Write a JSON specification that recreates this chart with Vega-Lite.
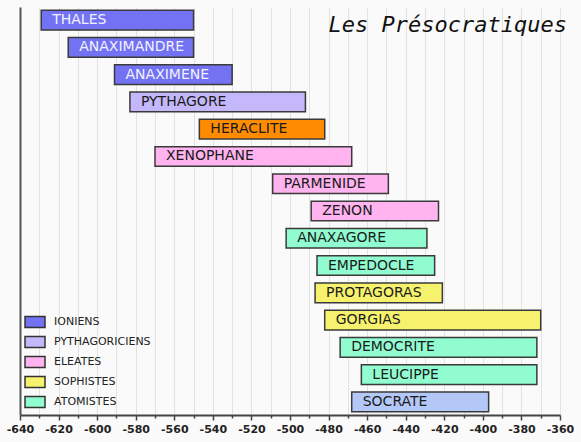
{
  "$schema": "https://vega.github.io/schema/vega-lite/v6.json",
  "autosize": {"type": "none"},
  "width": 540,
  "height": 408,
  "padding": {"left": 20, "top": 7, "right": 21, "bottom": 27},
  "background": "#fafafa",
  "title": {
    "text": "Les Présocratiques",
    "anchor": "end",
    "frame": "group",
    "offset": -30,
    "dx": 7,
    "font": "DejaVu Sans Mono",
    "fontStyle": "italic",
    "fontWeight": "normal",
    "fontSize": 22,
    "color": "#111111"
  },
  "config": {
    "view": {"stroke": null},
    "font": "DejaVu Sans"
  },
  "data": {
    "values": [
      {"name": "THALES", "start": -629, "end": -550, "school": "IONIENS"},
      {"name": "ANAXIMANDRE", "start": -615, "end": -550, "school": "IONIENS"},
      {"name": "ANAXIMENE", "start": -591, "end": -530, "school": "IONIENS"},
      {"name": "PYTHAGORE", "start": -583, "end": -492, "school": "PYTHAGORICIENS"},
      {"name": "HERACLITE", "start": -547, "end": -482, "school": "HERACLITE"},
      {"name": "XENOPHANE", "start": -570, "end": -468, "school": "ELEATES"},
      {"name": "PARMENIDE", "start": -509, "end": -449, "school": "ELEATES"},
      {"name": "ZENON", "start": -489, "end": -423, "school": "ELEATES"},
      {"name": "ANAXAGORE", "start": -502, "end": -429, "school": "ATOMISTES"},
      {"name": "EMPEDOCLE", "start": -486, "end": -425, "school": "ATOMISTES"},
      {"name": "PROTAGORAS", "start": -487, "end": -421, "school": "SOPHISTES"},
      {"name": "GORGIAS", "start": -482, "end": -370, "school": "SOPHISTES"},
      {"name": "DEMOCRITE", "start": -474, "end": -372, "school": "ATOMISTES"},
      {"name": "LEUCIPPE", "start": -463, "end": -372, "school": "ATOMISTES"},
      {"name": "SOCRATE", "start": -468, "end": -397, "school": "SOCRATE"}
    ]
  },
  "encoding": {
    "x": {
      "field": "start",
      "type": "quantitative",
      "scale": {"domain": [-640, -360], "nice": false, "zero": false},
      "axis": {
        "title": null,
        "values": [-640, -630, -620, -610, -600, -590, -580, -570, -560, -550, -540, -530, -520, -510, -500, -490, -480, -470, -460, -450, -440, -430, -420, -410, -400, -390, -380, -370, -360],
        "labelExpr": "datum.value % 20 == 0 ? '' + datum.value : ''",
        "labelFont": "DejaVu Sans",
        "labelFontWeight": "bold",
        "labelFontSize": 11,
        "labelColor": "#222222",
        "labelPadding": 3,
        "labelFlush": false,
        "labelOverlap": false,
        "grid": true,
        "gridColor": "#e2e2e2",
        "gridWidth": 1,
        "domainColor": "#444444",
        "domainWidth": 2,
        "tickColor": "#444444",
        "tickSize": {"condition": {"test": "datum.value % 20 == 0", "value": 5}, "value": 3},
        "tickWidth": 1.5
      }
    },
    "y": {
      "field": "name",
      "type": "nominal",
      "sort": null,
      "scale": {"paddingInner": 0.28, "paddingOuter": 0.12},
      "axis": {
        "title": null,
        "labels": false,
        "ticks": false,
        "grid": false,
        "domainColor": "#555555",
        "domainWidth": 2
      }
    }
  },
  "layer": [
    {
      "mark": {"type": "bar", "stroke": "#3a3a3a", "strokeWidth": 1.5, "cornerRadius": 0},
      "encoding": {
        "x2": {"field": "end"},
        "fill": {
          "field": "school",
          "type": "nominal",
          "scale": {
            "domain": ["IONIENS", "PYTHAGORICIENS", "ELEATES", "SOPHISTES", "ATOMISTES", "HERACLITE", "SOCRATE"],
            "range": ["#7272f2", "#c4b8fa", "#ffb4f0", "#f6f26e", "#90fcd0", "#ff8c00", "#b4c8f8"]
          },
          "legend": {
            "values": ["IONIENS", "PYTHAGORICIENS", "ELEATES", "SOPHISTES", "ATOMISTES"],
            "title": null,
            "orient": "bottom-left",
            "offset": 4,
            "symbolType": "M-1,-0.55H1V0.55H-1Z",
            "symbolSize": 400,
            "symbolStrokeColor": "#333333",
            "symbolStrokeWidth": 1.5,
            "symbolOpacity": 1,
            "labelFont": "DejaVu Sans",
            "labelFontSize": 11,
            "labelColor": "#222222",
            "labelOffset": 8,
            "rowPadding": 0
          }
        }
      }
    },
    {
      "mark": {"type": "text", "align": "left", "baseline": "middle", "dx": 11, "fontSize": 14, "font": "DejaVu Sans"},
      "encoding": {
        "text": {"field": "name"},
        "color": {
          "condition": {"test": "datum.school == 'IONIENS'", "value": "#f2f2ff"},
          "value": "#1a1a1a"
        }
      }
    }
  ]
}
